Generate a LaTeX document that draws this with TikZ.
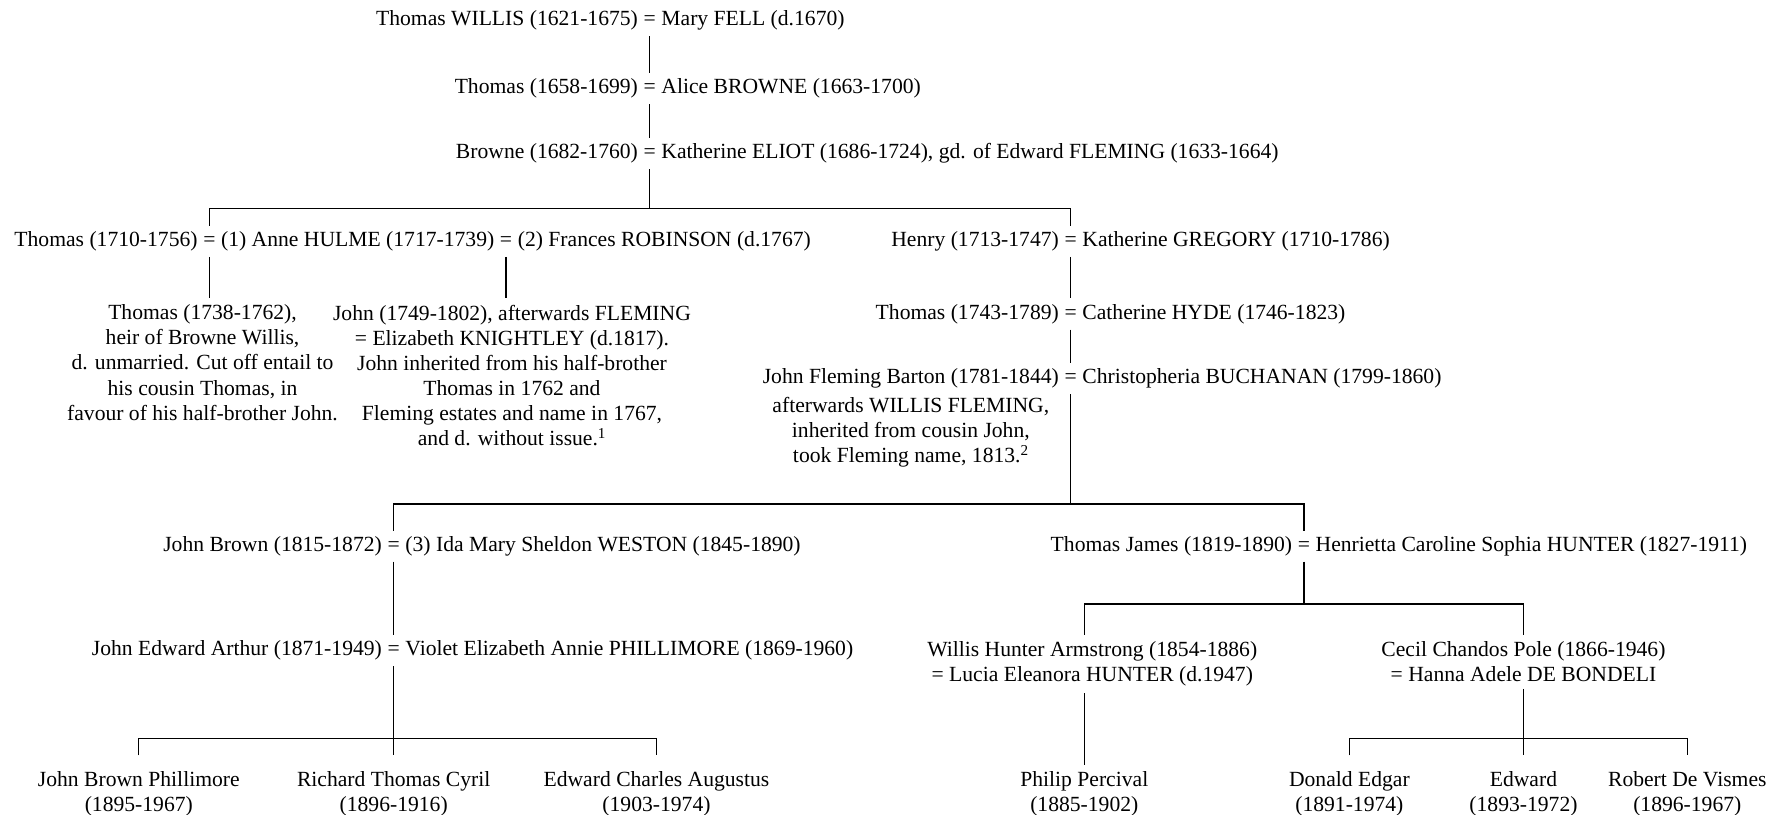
\documentclass[tikz,border=0pt]{standalone}
\usepackage{fontspec}
\setmainfont{Liberation Serif}
\usetikzlibrary{positioning}
\tikzset{
  pers/.style={font=\fontsize{19}{22}\selectfont, inner xsep=0pt, inner ysep=4pt, text height=14pt, text depth=5pt},
  eqs/.style={pers, inner xsep=4.6pt},
  blk/.style={font=\fontsize{19}{22}\selectfont, align=center, inner sep=0pt, outer ysep=6pt, anchor=north},
  note/.style={font=\fontsize{19}{22}\selectfont, align=center, inner sep=0pt},
  kid/.style={blk, outer ysep=14pt},
  line/.style={line width=1.2pt},
}
\begin{document}
\begin{tikzpicture}[x=1pt,y=-1pt]
\useasboundingbox (0,0) rectangle (1568,716.3);
% first three generations
\node[eqs] (e1) at (571,18) {=};
\node[pers,left=0pt of e1] (twillis) {Thomas WILLIS (1621-1675)};
\node[pers,right=0pt of e1] (mfell) {Mary FELL (d.1670)};
\node[eqs] (e2) at (571,78) {=};
\node[pers,left=0pt of e2] (thomas58) {Thomas (1658-1699)};
\node[pers,right=0pt of e2] (abrowne) {Alice BROWNE (1663-1700)};
\node[eqs] (e3) at (571,135) {=};
\node[pers,left=0pt of e3] (browne) {Browne (1682-1760)};
\node[pers,right=0pt of e3] (keliot) {Katherine ELIOT (1686-1724), gd. of Edward FLEMING (1633-1664)};
\coordinate (bar1) at (571,183);
% Thomas and Henry
\node[eqs] (e4a) at (184,212) {=};
\node[pers,left=0pt of e4a] (thomas10) {Thomas (1710-1756)};
\node[pers,right=0pt of e4a] (ahulme) {(1) Anne HULME (1717-1739)};
\node[eqs,right=0pt of ahulme] (e4b) {=};
\node[pers,right=0pt of e4b] (frobinson) {(2) Frances ROBINSON (d.1767)};
\node[eqs] (e5) at (941,212) {=};
\node[pers,left=0pt of e5] (henry) {Henry (1713-1747)};
\node[pers,right=0pt of e5] (kgregory) {Katherine GREGORY (1710-1786)};
\node[blk] (tom38) at (178,262) {Thomas (1738-1762),\\heir of Browne Willis,\\d. unmarried. Cut off entail to\\his cousin Thomas, in\\favour of his half-brother John.};
\node[blk] (john49) at (450,262) {John (1749-1802), afterwards FLEMING\\= Elizabeth KNIGHTLEY (d.1817).\\John inherited from his half-brother\\Thomas in 1762 and\\Fleming estates and name in 1767,\\and d. without issue.\textsuperscript{1}};
\node[eqs] (e6) at (941,276) {=};
\node[pers,left=0pt of e6] (thomas43) {Thomas (1743-1789)};
\node[pers,right=0pt of e6] (chyde) {Catherine HYDE (1746-1823)};
\node[eqs] (e7) at (941,333) {=};
\node[pers,left=0pt of e7] (jfb) {John Fleming Barton (1781-1844)};
\node[pers,right=0pt of e7] (cbuchanan) {Christopheria BUCHANAN (1799-1860)};
\node[note,below=2pt of jfb] (jfbnote) {afterwards WILLIS FLEMING,\\inherited from cousin John,\\took Fleming name, 1813.\textsuperscript{2}};
\coordinate (bar2) at (941,443);
% John Brown and Thomas James
\node[eqs] (e8a) at (346,480) {=};
\node[pers,left=0pt of e8a] (jbrown) {John Brown (1815-1872)};
\node[pers,right=0pt of e8a] (imweston) {(3) Ida Mary Sheldon WESTON (1845-1890)};
\node[eqs] (e8b) at (1146,480) {=};
\node[pers,left=0pt of e8b] (tjames) {Thomas James (1819-1890)};
\node[pers,right=0pt of e8b] (hhunter) {Henrietta Caroline Sophia HUNTER (1827-1911)};
\node[eqs] (e9) at (346,572) {=};
\node[pers,left=0pt of e9] (jea) {John Edward Arthur (1871-1949)};
\node[pers,right=0pt of e9] (vphillimore) {Violet Elizabeth Annie PHILLIMORE (1869-1960)};
\coordinate (bar3) at (346,649);
\node[kid] (jbp) at (122,664) {John Brown Phillimore\\(1895-1967)};
\node[kid] (rtc) at (346,664) {Richard Thomas Cyril\\(1896-1916)};
\node[kid] (eca) at (577,664) {Edward Charles Augustus\\(1903-1974)};
\coordinate (bar4) at (1146,531);
\node[blk] (wha) at (960,558) {Willis Hunter Armstrong (1854-1886)\\= Lucia Eleanora HUNTER (d.1947)};
\node[blk] (ccp) at (1339,558) {Cecil Chandos Pole (1866-1946)\\= Hanna Adele DE BONDELI};
\node[blk] (pp) at (953,672) {Philip Percival\\(1885-1902)};
\coordinate (bar5) at (1339,649);
\node[kid] (de) at (1186,664) {Donald Edgar\\(1891-1974)};
\node[kid] (ed) at (1339,664) {Edward\\(1893-1972)};
\node[kid] (rdv) at (1483,664) {Robert De Vismes\\(1896-1967)};
% connectors
\draw[line] (e1) -- (e2);
\draw[line] (e2) -- (e3);
\draw[line] (e3) -- (bar1);
\draw[line] (e4a) |- (bar1) -| (e5);
\draw[line] (e4a) -- (e4a |- tom38.north);
\draw[line] (e4b) -- (e4b |- john49.north);
\draw[line] (e5) -- (e6);
\draw[line] (e6) -- (e7);
\draw[line] (e7) -- (bar2);
\draw[line] (e8a) |- (bar2) -| (e8b);
\draw[line] (e8a) -- (e9);
\draw[line] (e9) -- (rtc);
\draw[line] (jbp) |- (bar3) -| (eca);
\draw[line] (e8b) -- (bar4);
\draw[line] (pp |- wha.north) |- (bar4) -| (ccp);
\draw[line] (pp |- wha.south) -- (pp);
\draw[line] (ccp) -- (ed);
\draw[line] (de) |- (bar5) -| (rdv);
\end{tikzpicture}
\end{document}
